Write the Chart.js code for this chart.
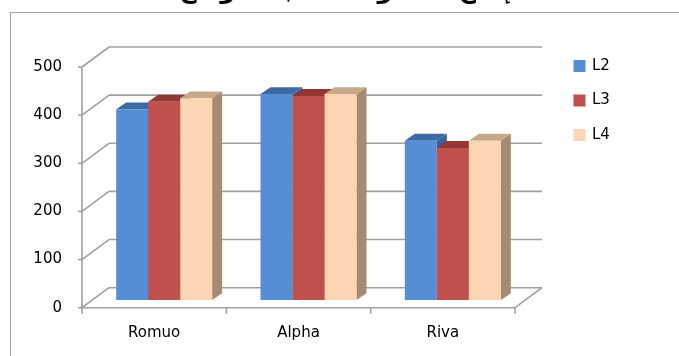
<!DOCTYPE html>
<html>
<head>
<meta charset="utf-8">
<script src="https://cdn.jsdelivr.net/npm/chart.js@4.4.1/dist/chart.umd.min.js"></script>
<style>
  html, body { margin: 0; padding: 0; background: #ffffff; }
  #wrap { width: 679px; height: 356px; position: relative; }
  canvas { display: block; }
</style>
</head>
<body>
<div id="wrap"><canvas id="c" width="679" height="356"></canvas></div>
<script>
// Production per site and line
const categories = ['Romuo', 'Alpha', 'Riva'];
const seriesNames = ['L2', 'L3', 'L4'];
const l2Values = [396, 428, 331];
const l3Values = [412, 424, 316];
const l4Values = [419, 428, 331];
const yTicks = [0, 100, 200, 300, 400, 500];
const titleText = 'إنتاج الخطوط حسب المواقع';

// face colours per series: front, top, side
const palette = [
  { front: '#558ed5', top: '#3d6aa3', side: '#3a6298' },
  { front: '#c0504d', top: '#923734', side: '#8c3a37' },
  { front: '#fcd5b5', top: '#c6a98b', side: '#a58b72' }
];

const FONT = '"DejaVu Sans", Verdana, sans-serif';
const WALL = { dx: 27, dy: -20 };      // depth of the whole plot box
const PLANE = { dx: 10, dy: -7.7 };    // where the bar fronts sit inside the box
const BAR = { dx: 10, dy: -6.8 };      // depth of each bar
const GRID = '#a0a0a0';

function poly(ctx, pts, fill) {
  ctx.beginPath();
  ctx.moveTo(pts[0][0], pts[0][1]);
  for (let i = 1; i < pts.length; i++) ctx.lineTo(pts[i][0], pts[i][1]);
  ctx.closePath();
  ctx.fillStyle = fill;
  ctx.fill();
}

function line(ctx, x1, y1, x2, y2) {
  ctx.beginPath();
  ctx.moveTo(x1, y1);
  ctx.lineTo(x2, y2);
  ctx.stroke();
}

const box3d = {
  id: 'box3d',
  beforeDraw(chart) {
    const ctx = chart.ctx;
    ctx.save();
    ctx.fillStyle = '#ffffff';
    ctx.fillRect(0, 0, chart.width, chart.height);
    // outer frame
    ctx.strokeStyle = '#a6a6a6';
    ctx.lineWidth = 1;
    ctx.strokeRect(10.5, 12.5, 1000, 1000);
    // heading, mostly above the top edge
    ctx.fillStyle = '#000000';
    ctx.font = 'bold 24px ' + FONT;
    ctx.textAlign = 'center';
    ctx.textBaseline = 'alphabetic';
    ctx.direction = 'rtl';
    ctx.fillText(titleText, 346, -2);
    ctx.restore();
  },
  beforeDatasetsDraw(chart) {
    const ctx = chart.ctx;
    const a = chart.chartArea;
    const ys = chart.scales.y;
    const y0 = ys.getPixelForValue(0);
    const yTop = ys.getPixelForValue(yTicks[yTicks.length - 1]);
    ctx.save();
    ctx.strokeStyle = GRID;
    ctx.lineWidth = 1.6;
    ctx.lineCap = 'butt';
    // back wall gridlines and left wall diagonals
    yTicks.forEach(v => {
      const y = ys.getPixelForValue(v);
      line(ctx, a.left + WALL.dx, y + WALL.dy, a.right + WALL.dx, y + WALL.dy);
      line(ctx, a.left, y, a.left + WALL.dx, y + WALL.dy);
      line(ctx, a.left - 4, y, a.left, y);
    });
    // front value axis
    line(ctx, a.left, yTop, a.left, y0);
    // floor front and right edges
    line(ctx, a.left, y0, a.right, y0);
    line(ctx, a.right, y0, a.right + WALL.dx, y0 + WALL.dy);
    // category boundary ticks
    const n = categories.length;
    for (let k = 0; k <= n; k++) {
      const x = a.left + (a.right - a.left) * k / n;
      line(ctx, x, y0, x, y0 + 6);
    }
    // top and side faces, drawn left to right so each front covers its neighbour's side
    const items = [];
    chart.data.datasets.forEach((ds, i) => {
      const meta = chart.getDatasetMeta(i);
      meta.data.forEach((el, j) => {
        const p = el.getProps(['x', 'y', 'base', 'width'], true);
        items.push({ i, j, p });
      });
    });
    items.sort((u, v) => (u.p.x - v.p.x));
    items.forEach(({ i, p }) => {
      const L = p.x - p.width / 2 + PLANE.dx;
      const R = p.x + p.width / 2 + PLANE.dx;
      const T = p.y + PLANE.dy;
      const B = p.base + PLANE.dy;
      poly(ctx, [[R, T], [R + BAR.dx, T + BAR.dy], [R + BAR.dx, B + BAR.dy], [R, B]], palette[i].side);
      poly(ctx, [[L, T], [R, T], [R + BAR.dx, T + BAR.dy], [L + BAR.dx, T + BAR.dy]], palette[i].top);
    });
    ctx.restore();
    // fronts are drawn by the bar controller in the shifted plane
    ctx.save();
    ctx.translate(PLANE.dx, PLANE.dy);
  },
  afterDatasetsDraw(chart) {
    chart.ctx.restore();
  },
  afterDraw(chart) {
    const ctx = chart.ctx;
    ctx.save();
    ctx.font = '15px ' + FONT;
    ctx.textBaseline = 'middle';
    ctx.textAlign = 'left';
    chart.data.datasets.forEach((ds, i) => {
      const cy = 66 + i * 34.5;
      ctx.fillStyle = ds.backgroundColor;
      ctx.fillRect(573.5, cy - 6, 12, 12);
      ctx.fillStyle = '#000000';
      ctx.fillText(ds.label, 592, cy);
    });
    ctx.restore();
  }
};

const seriesValues = [l2Values, l3Values, l4Values];

new Chart(document.getElementById('c'), {
  type: 'bar',
  data: {
    labels: categories,
    datasets: seriesNames.map((name, i) => ({
      label: name,
      data: seriesValues[i],
      backgroundColor: palette[i].front,
      borderWidth: 0,
      categoryPercentage: 0.665,
      barPercentage: 1.0,
      clip: false
    }))
  },
  options: {
    responsive: false,
    animation: false,
    devicePixelRatio: 1,
    layout: { padding: { left: 10, right: 164, top: 67, bottom: 0 } },
    plugins: {
      legend: { display: false },
      tooltip: { enabled: false },
      title: { display: false }
    },
    scales: {
      x: {
        grid: { display: false, drawTicks: false },
        border: { display: false },
        ticks: { color: '#000000', font: { family: FONT, size: 15 }, padding: 16, maxRotation: 0 },
        afterFit(s) { s.height = 48.3; }
      },
      y: {
        min: 0,
        max: 500,
        grid: { display: false, drawTicks: false },
        border: { display: false },
        ticks: {
          stepSize: 100,
          color: '#000000',
          font: { family: FONT, size: 15 },
          padding: 20
        },
        afterFit(s) { s.width = 72; }
      }
    }
  },
  plugins: [box3d]
});
</script>
</body>
</html>
